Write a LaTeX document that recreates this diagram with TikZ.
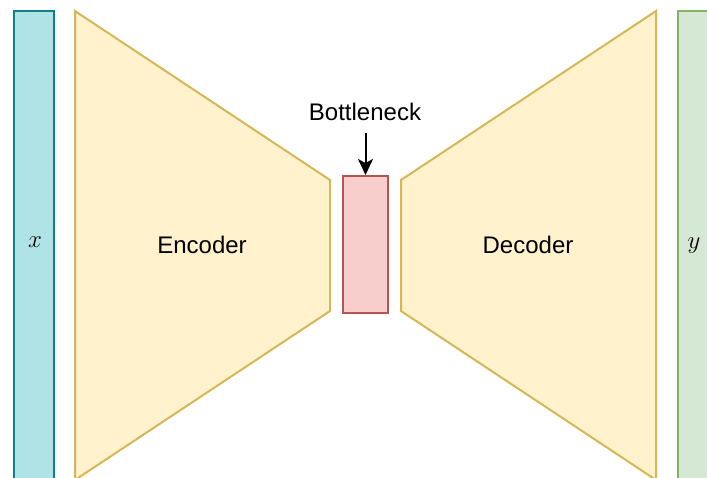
\documentclass[tikz,border=0pt]{standalone}
\usepackage{fontspec}
\setmainfont{Liberation Sans}
\usetikzlibrary{arrows.meta}
\definecolor{inFill}{HTML}{B0E3E6}
\definecolor{inLine}{HTML}{0E8088}
\definecolor{encFill}{HTML}{FFF2CC}
\definecolor{encLine}{HTML}{D6B656}
\definecolor{bnFill}{HTML}{F8CECC}
\definecolor{bnLine}{HTML}{B85450}
\definecolor{outFill}{HTML}{D5E8D4}
\definecolor{outLine}{HTML}{82B366}
\tikzset{
  shapeline/.style={line width=2pt, line join=miter},
  lbl/.style={font=\fontsize{24}{28}\selectfont, inner sep=0pt},
  mathlbl/.style={font=\fontsize{28}{32}\selectfont, inner sep=0pt}
}
\begin{document}
\begin{tikzpicture}[x=1pt,y=-1pt]
\useasboundingbox (0,0) rectangle (707,477);
\clip (0,0) rectangle (707,477);
% input x
\draw[shapeline, fill=inFill, draw=inLine] (14,11) rectangle (54,490);
% encoder
\draw[shapeline, fill=encFill, draw=encLine] (75,11) -- (330,180) -- (330,311) -- (75,480) -- cycle;
% bottleneck
\draw[shapeline, fill=bnFill, draw=bnLine] (343,176) rectangle (388,313);
% decoder
\draw[shapeline, fill=encFill, draw=encLine] (656,11) -- (401,180) -- (401,311) -- (656,480) -- cycle;
% output y
\draw[shapeline, fill=outFill, draw=outLine] (678,11) rectangle (720,490);
% labels
\node[mathlbl] (xl) at (35,242) {$x$};
\node[mathlbl] (yl) at (694,246) {$y$};
\node[lbl] (enc) at (202,245) {Encoder};
\node[lbl] (dec) at (528,245) {Decoder};
\node[lbl] (bnl) at (365,112) {Bottleneck};
\coordinate (bntop) at (365.5,175);
\coordinate (arrs) at (365.5,133);
\draw[line width=2pt, -{Stealth[length=16pt,width=15pt,inset=4pt]}] (arrs) -- (bntop);
\end{tikzpicture}
\end{document}
